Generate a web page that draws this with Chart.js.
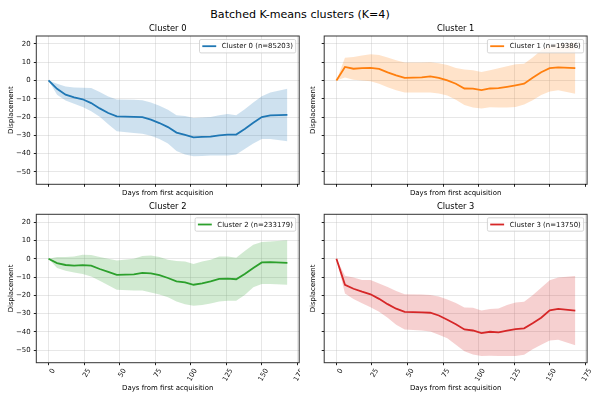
<!DOCTYPE html>
<html>
<head>
<meta charset="utf-8">
<script src="https://cdn.jsdelivr.net/npm/chart.js@4.4.1/dist/chart.umd.min.js"></script>
<style>
  body { margin: 0; background: #fff; }
  #fig { position: relative; width: 600px; height: 400px; font-family: "DejaVu Sans", sans-serif; }
  #suptitle { position: absolute; left: 0; top: 7.5px; width: 600px; line-height: 13px; text-align: center; font-size: 11.1px; color: #000; }
  canvas { position: absolute; }
</style>
</head>
<body>
<div id="fig">
  <div id="suptitle">Batched K-means clusters (K=4)</div>
  <canvas id="c0" width="300" height="180" style="left:0;top:20px"></canvas>
  <canvas id="c1" width="300" height="180" style="left:300px;top:20px"></canvas>
  <canvas id="c2" width="300" height="200" style="left:0;top:200px"></canvas>
  <canvas id="c3" width="300" height="200" style="left:300px;top:200px"></canvas>
</div>
<script>
"use strict";

// days since first acquisition (shared by all clusters)
const days = [0, 6, 12, 18, 24, 30, 36, 42, 48, 60, 66, 72, 78, 84, 90, 96, 102, 108, 114, 120, 126, 132, 138, 144, 150, 156, 168];

const clusterLabels = ["Cluster 0 (n=85203)", "Cluster 1 (n=19386)", "Cluster 2 (n=233179)", "Cluster 3 (n=13750)"];
const clusterTitles = ["Cluster 0", "Cluster 1", "Cluster 2", "Cluster 3"];
const clusterColors = ["#1f77b4", "#ff7f0e", "#2ca02c", "#d62728"];

// mean displacement and band (upper / lower)
const mean0 = [0, -4.6, -7.8, -9.3, -10.3, -12.4, -15.3, -17.8, -19.6, -19.9, -20.1, -21.4, -23.3, -25.5, -28.5, -29.8, -31.1, -30.9, -30.7, -30, -29.6, -29.6, -26.5, -23.2, -20, -19.1, -18.8];
const upper0 = [0, -1.8, -3.3, -3.8, -4, -4.2, -6.3, -8.8, -10.4, -10.6, -10.8, -12, -13.8, -16, -19, -19.5, -20.5, -20.3, -20, -19, -18.3, -19, -15.8, -12, -8.6, -6.6, -4.5];
const lower0 = [0, -7.8, -11, -12.8, -14.5, -16.8, -19.8, -24, -27.8, -28.7, -29.1, -30.2, -32, -34.5, -38.6, -40.5, -41.5, -41.3, -41, -41, -41, -40.5, -37.5, -34.5, -32, -32, -33.3];

const mean1 = [0, 7.4, 6.4, 6.7, 6.9, 6.3, 4.4, 2.8, 1.4, 1.7, 2.2, 1.4, 0, -1.8, -4.4, -4.5, -5.3, -4.4, -4.2, -3.5, -2.7, -1.8, 1.5, 4.5, 6.7, 7.1, 6.7];
const upper1 = [0, 12.4, 12.8, 13.6, 14.3, 13.9, 12.5, 11, 9.8, 9.8, 10, 9.4, 8.5, 6.8, 6, 5.6, 4.6, 5.6, 6.6, 7.8, 8.8, 9.1, 12.5, 16.5, 19.2, 20.2, 20.6];
const lower1 = [0, 1.6, 0.4, 0, -0.4, -1.8, -3.7, -5.3, -6.6, -6.6, -6.6, -7.1, -8.2, -10.6, -13.5, -14.8, -15.4, -14.6, -14.8, -14.8, -14.5, -13.2, -10.8, -8, -6, -5.3, -7.3];

const mean2 = [0, -2.4, -3.4, -3.7, -3.5, -3.8, -5.6, -7.2, -8.8, -8.5, -7.7, -8, -9, -10.5, -12.3, -12.9, -14.2, -13.4, -12.3, -11, -10.8, -11.2, -8.3, -5.1, -2, -1.8, -2.2];
const upper2 = [0, 0.9, 0.9, 1.2, 2.2, 2, 1, 0, -0.9, 0, 1.5, 1.8, 1, -0.5, -1.2, -1.5, -2.8, -1.5, -0.5, 1.2, 1.3, 0.6, 4.2, 7.6, 9.2, 9.5, 10.1];
const lower2 = [0, -5, -6.5, -7.5, -8.3, -9.7, -12, -14.5, -17, -17.3, -17.3, -18.5, -19.5, -21, -23.4, -24.8, -25.7, -25.3, -24.5, -23.4, -23, -23, -19.8, -15.6, -13.8, -13.8, -14.2];

const mean3 = [0, -14.2, -16.4, -18, -19.4, -21.9, -24.8, -27.3, -29, -29.3, -29.5, -31, -33.3, -35.8, -38.6, -39.2, -40.6, -39.9, -40.2, -39.3, -38.5, -38, -35.3, -32.2, -28.2, -27.4, -28.3];
const upper3 = [0, -9.3, -10.3, -11.6, -11.6, -13.5, -15.4, -17.6, -19.4, -19.5, -19.8, -20.6, -22.3, -24.2, -26.6, -26.8, -28.3, -27.5, -27.2, -25.2, -23.9, -23.5, -20, -15.8, -11.8, -10.2, -9.4];
const lower3 = [0, -19, -22, -24.3, -26.5, -29, -32.3, -36, -38.7, -39.2, -39.7, -41.5, -43.5, -47, -50.5, -52.3, -53.1, -53, -53.2, -53.2, -53.1, -52.4, -49.5, -47, -44.6, -44.2, -47.2];

const means = [mean0, mean1, mean2, mean3];
const uppers = [upper0, upper1, upper2, upper3];
const lowers = [lower0, lower1, lower2, lower3];

const FS = 6.94; // 10pt at 50 dpi
Chart.defaults.font.family = '"DejaVu Sans", sans-serif';
Chart.defaults.font.size = FS;
Chart.defaults.color = '#111';

function toPoints(values) {
    return days.map(function (d, i) { return { x: d, y: values[i] }; });
}

function withAlpha(hex, a) {
    const n = parseInt(hex.slice(1), 16);
    return 'rgba(' + (n >> 16) + ',' + ((n >> 8) & 255) + ',' + (n & 255) + ',' + a + ')';
}

function minusSign(v) {
    return String(v).replace('-', '\u2212');
}

// axes frame on all four sides plus matplotlib-like legend in the upper right corner
const framePlugin = {
    id: 'frameAndLegend',
    afterDraw(chart) {
        const a = chart.chartArea;
        const ctx = chart.ctx;
        ctx.save();
        ctx.strokeStyle = 'rgba(0,0,0,0.8)';
        ctx.lineWidth = 1;
        ctx.strokeRect(a.left, a.top, a.right - a.left, a.bottom - a.top);

        const ds = chart.data.datasets[0];
        ctx.font = FS + 'px "DejaVu Sans"';
        const tw = ctx.measureText(ds.label).width;
        const w = 2.8 + 13.9 + 5.55 + tw + 2.8;
        const h = 13.4;
        const x = a.right - 3.5 - w;
        const y = a.top + 3.5;
        ctx.beginPath();
        ctx.roundRect(x, y, w, h, 1.5);
        ctx.fillStyle = 'rgba(255,255,255,0.8)';
        ctx.fill();
        ctx.strokeStyle = '#cccccc';
        ctx.lineWidth = 0.8;
        ctx.stroke();
        ctx.beginPath();
        ctx.moveTo(x + 2.8, y + h / 2);
        ctx.lineTo(x + 16.7, y + h / 2);
        ctx.strokeStyle = ds.borderColor;
        ctx.lineWidth = 1.8;
        ctx.stroke();
        ctx.fillStyle = '#111';
        ctx.textBaseline = 'middle';
        ctx.fillText(ds.label, x + 22.25, y + h / 2 + 0.3);
        ctx.restore();
    }
};

function makeChart(idx, left, bottomRow) {
    const color = clusterColors[idx];
    const yWidth = left ? 36.3 : 24.2;
    const xHeight = bottomRow ? 37.3 : 15.7;
    const padTop = bottomRow ? 2.34 : 4.04;
    const padRight = left ? 0.8 : 12.9;

    return new Chart(document.getElementById('c' + idx), {
        type: 'line',
        data: {
            datasets: [
                {
                    label: clusterLabels[idx],
                    data: toPoints(means[idx]),
                    borderColor: color,
                    borderWidth: 1.8,
                    pointRadius: 0,
                    fill: false,
                    tension: 0
                },
                {
                    label: 'upper',
                    data: toPoints(uppers[idx]),
                    borderWidth: 0,
                    pointRadius: 0,
                    backgroundColor: withAlpha(color, 0.22),
                    fill: '+1'
                },
                {
                    label: 'lower',
                    data: toPoints(lowers[idx]),
                    borderWidth: 0,
                    pointRadius: 0,
                    fill: false
                }
            ]
        },
        options: {
            responsive: false,
            animation: false,
            events: [],
            layout: { padding: { top: padTop, right: padRight, left: 0, bottom: 0 } },
            plugins: {
                legend: { display: false },
                tooltip: { enabled: false },
                title: {
                    display: true,
                    text: clusterTitles[idx],
                    fullSize: false,
                    color: '#000',
                    font: { size: 8.3, weight: 'normal', lineHeight: 1.2 },
                    padding: { top: 0, bottom: 2 }
                }
            },
            scales: {
                x: {
                    type: 'linear',
                    min: -8.6,
                    max: 176.3,
                    border: { display: false },
                    grid: { color: 'rgba(176,176,176,0.3)', tickColor: '#222', tickLength: 2.5, lineWidth: 1 },
                    ticks: {
                        display: bottomRow,
                        stepSize: 25,
                        includeBounds: false,
                        autoSkip: false,
                        minRotation: 60,
                        maxRotation: 60,
                        labelOffset: 5,
                        padding: 2,
                        callback: minusSign
                    },
                    title: {
                        display: true,
                        text: 'Days from first acquisition',
                        color: '#000',
                        padding: { top: 0, bottom: bottomRow ? 7.5 : 2.5 }
                    },
                    afterFit(scale) {
                        scale.height = xHeight;
                        scale.paddingLeft = 0;
                        scale.paddingRight = 0;
                    }
                },
                y: {
                    min: -56.8,
                    max: 24.3,
                    border: { display: false },
                    grid: { color: 'rgba(176,176,176,0.3)', tickColor: '#222', tickLength: 2.5, lineWidth: 1 },
                    ticks: {
                        display: left,
                        stepSize: 10,
                        includeBounds: false,
                        padding: 3.1,
                        callback: minusSign
                    },
                    title: {
                        display: true,
                        text: 'Displacement',
                        color: '#000',
                        padding: { top: left ? 7.5 : 9.1, bottom: 0 }
                    },
                    afterFit(scale) {
                        scale.width = yWidth;
                        scale.paddingTop = 0;
                        scale.paddingBottom = 0;
                    }
                }
            }
        },
        plugins: [framePlugin]
    });
}

makeChart(0, true, false);
makeChart(1, false, false);
makeChart(2, true, true);
makeChart(3, false, true);
</script>
</body>
</html>
